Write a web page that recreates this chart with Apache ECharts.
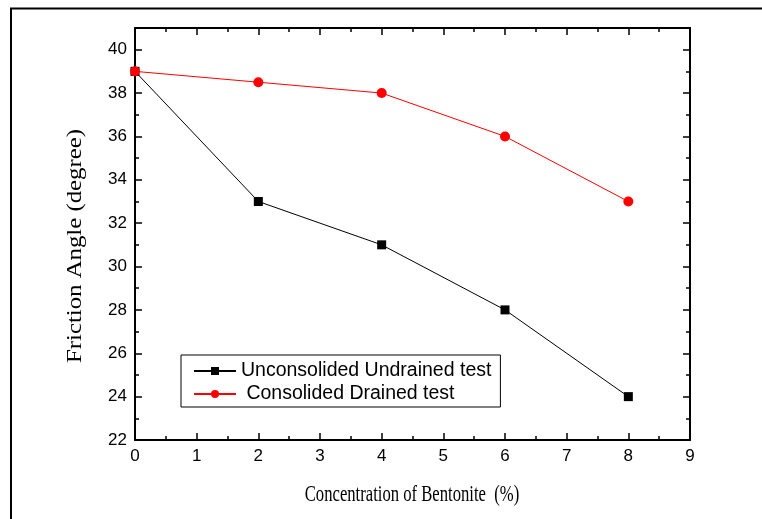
<!DOCTYPE html>
<html>
<head>
<meta charset="utf-8">
<script src="https://cdn.jsdelivr.net/npm/echarts@6/dist/echarts.min.js"></script>
<style>
  html, body { margin: 0; padding: 0; background: #fff; }
  #chart { width: 762px; height: 519px; }
</style>
</head>
<body>
<div id="chart"></div>
<script>
// Bentonite concentration (%) and the measured friction angles (degree)
const concentration = [0, 2, 4, 6, 8];
const undrained = [39, 33, 31, 28, 24];
const drained = [39, 38.5, 38, 36, 33];
const seriesNames = ['Unconsolided Undrained test', ' Consolided Drained test'];
const xTitle = 'Concentration of Bentonite  (%)';
const yTitle = 'Friction Angle (degree)';

const toPoints = (ys) => concentration.map((x, i) => [x, ys[i]]);

const chart = echarts.init(document.getElementById('chart'), null, { renderer: 'canvas' });

const sansFont = 'Liberation Sans, Arial, sans-serif';
const serifFont = 'Liberation Serif, Times New Roman, serif';
const tickFont = { fontFamily: sansFont, fontSize: 17, color: '#000' };
const frameLine = { show: true, onZero: false, lineStyle: { color: '#000', width: 2 } };
const majorTick = { show: true, inside: true, length: 7, lineStyle: { color: '#000', width: 1.5 } };
const minorTick = { show: true, splitNumber: 2, length: 4, lineStyle: { color: '#000', width: 1.5 } };

chart.setOption({
  animation: false,
  backgroundColor: '#fff',
  grid: { left: 135, top: 28, right: 72, bottom: 79, containLabel: false },
  graphic: [
    {
      // page frame along the left and top edges
      type: 'polyline',
      shape: { points: [[11, 519], [11, 8.5], [762, 8.5]] },
      style: { stroke: '#000', lineWidth: 2, fill: null },
      silent: true
    },
    {
      // x axis title, set in a narrow serif
      type: 'text',
      x: 412, y: 495,
      scaleX: 0.74,
      style: {
        text: xTitle, font: '22.5px ' + serifFont, fill: '#000',
        align: 'center', verticalAlign: 'middle'
      },
      silent: true
    },
    {
      // y axis title, rotated and stretched along the axis
      type: 'text',
      x: 75, y: 246,
      rotation: Math.PI / 2,
      scaleX: 1.18,
      style: {
        text: yTitle, font: '21px ' + serifFont, fill: '#000',
        align: 'center', verticalAlign: 'middle'
      },
      silent: true
    }
  ],
  legend: {
    left: 181,
    top: 355,
    orient: 'vertical',
    itemGap: 3,
    itemWidth: 42,
    itemHeight: 10,
    padding: [6, 9, 3, 12],
    borderColor: '#000',
    borderWidth: 1,
    backgroundColor: '#fff',
    textStyle: { fontFamily: sansFont, fontSize: 19.5, lineHeight: 20, color: '#000' },
    data: seriesNames
  },
  xAxis: [
    {
      type: 'value',
      min: 0, max: 9, interval: 1,
      position: 'bottom',
      axisLine: frameLine,
      axisTick: majorTick,
      minorTick: minorTick,
      axisLabel: Object.assign({ margin: 8, interval: 0, hideOverlap: false, showMinLabel: true, showMaxLabel: true }, tickFont),
      splitLine: { show: false }
    },
    {
      type: 'value',
      min: 0, max: 9, interval: 1,
      position: 'top',
      axisLine: frameLine,
      axisTick: majorTick,
      minorTick: minorTick,
      axisLabel: { show: false },
      splitLine: { show: false }
    }
  ],
  yAxis: [
    {
      type: 'value',
      min: 22, max: 41, interval: 2,
      position: 'left',
      axisLine: frameLine,
      axisTick: majorTick,
      minorTick: minorTick,
      axisLabel: Object.assign({ margin: 8, interval: 0, hideOverlap: false, showMinLabel: true, showMaxLabel: false }, tickFont),
      splitLine: { show: false }
    },
    {
      type: 'value',
      min: 22, max: 41, interval: 2,
      position: 'right',
      axisLine: frameLine,
      axisTick: majorTick,
      minorTick: minorTick,
      axisLabel: { show: false },
      splitLine: { show: false }
    }
  ],
  series: [
    {
      name: seriesNames[0],
      type: 'line',
      data: toPoints(undrained),
      symbol: 'rect',
      symbolSize: 9,
      lineStyle: { color: '#000', width: 1 },
      itemStyle: { color: '#000' },
      z: 3
    },
    {
      name: seriesNames[1],
      type: 'line',
      data: toPoints(drained),
      symbol: 'circle',
      symbolSize: 10,
      lineStyle: { color: '#ff0000', width: 1 },
      itemStyle: { color: '#ff0000' },
      z: 4
    }
  ]
});
</script>
</body>
</html>
